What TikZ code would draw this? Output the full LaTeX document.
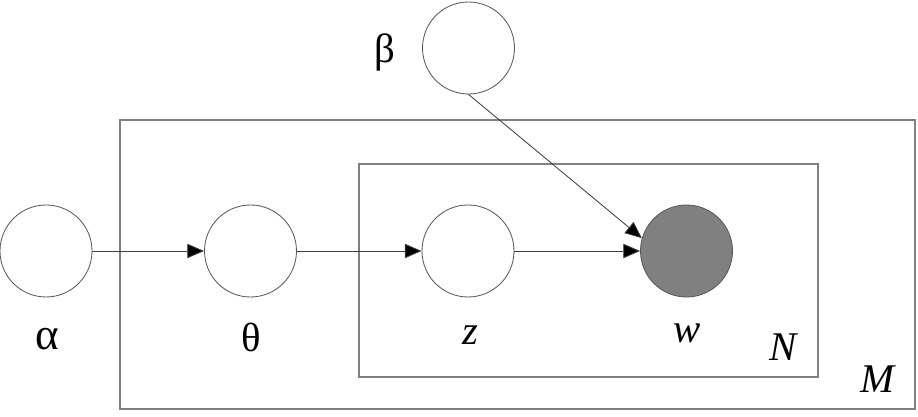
\documentclass[tikz,border=0pt]{standalone}
\usepackage{fontspec}
\setmainfont{Liberation Serif}
\usetikzlibrary{arrows.meta}
\begin{document}
\begin{tikzpicture}[
	var/.style={circle, draw=black!65, line width=.6pt, fill=white, minimum size=2.3cm, inner sep=0pt},
	obs/.style={var, fill=black!50},
	plate/.style={draw=black!50, line width=.8pt},
	edge/.style={-{Triangle[length=4.2mm,width=3.6mm,fill=black]}, draw=black!75, line width=.6pt},
	lbl/.style={font=\fontsize{29}{32}\selectfont}]
	\useasboundingbox (0,0) rectangle (22.95,10.425);
	
	% plates
	\draw[plate] (3,.2) rectangle (22.875,7.425);
	\draw[plate] (8.975,1) rectangle (20.45,6.325);
	
	% variables
	\node[var] (alpha) at (1.15,4.15){};
	\node[var] (theta) at (6.2625,4.15){};
	\node[var] (z) at (11.7,4.15){};
	\node[obs] (w) at (17.1625,4.15){};
	\node[var] (beta) at (11.7125,9.225){};
	
	\draw[edge] (alpha) -- (theta);
	\draw[edge] (theta) -- (z);
	\draw[edge] (z) -- (w);
	\draw[edge] (beta.south) -- (w.164);
	
	% labels
	\node[lbl] (la) at (1.175,1.95){\fontsize{32}{34}\selectfont α};
	\node[lbl] (lt) at (6.275,2.0){θ};
	\node[lbl] (lz) at (11.75,2.05){\textit{z}};
	\node[lbl] (lw) at (17.175,2.1){\textit{w}};
	\node[lbl] (lN) at (19.6,1.75){\textit{N}};
	\node[lbl] (lM) at (21.95,0.95){\textit{M}};
	\node[lbl] (lb) at (9.625,9.125){β};
\end{tikzpicture}
\end{document}
